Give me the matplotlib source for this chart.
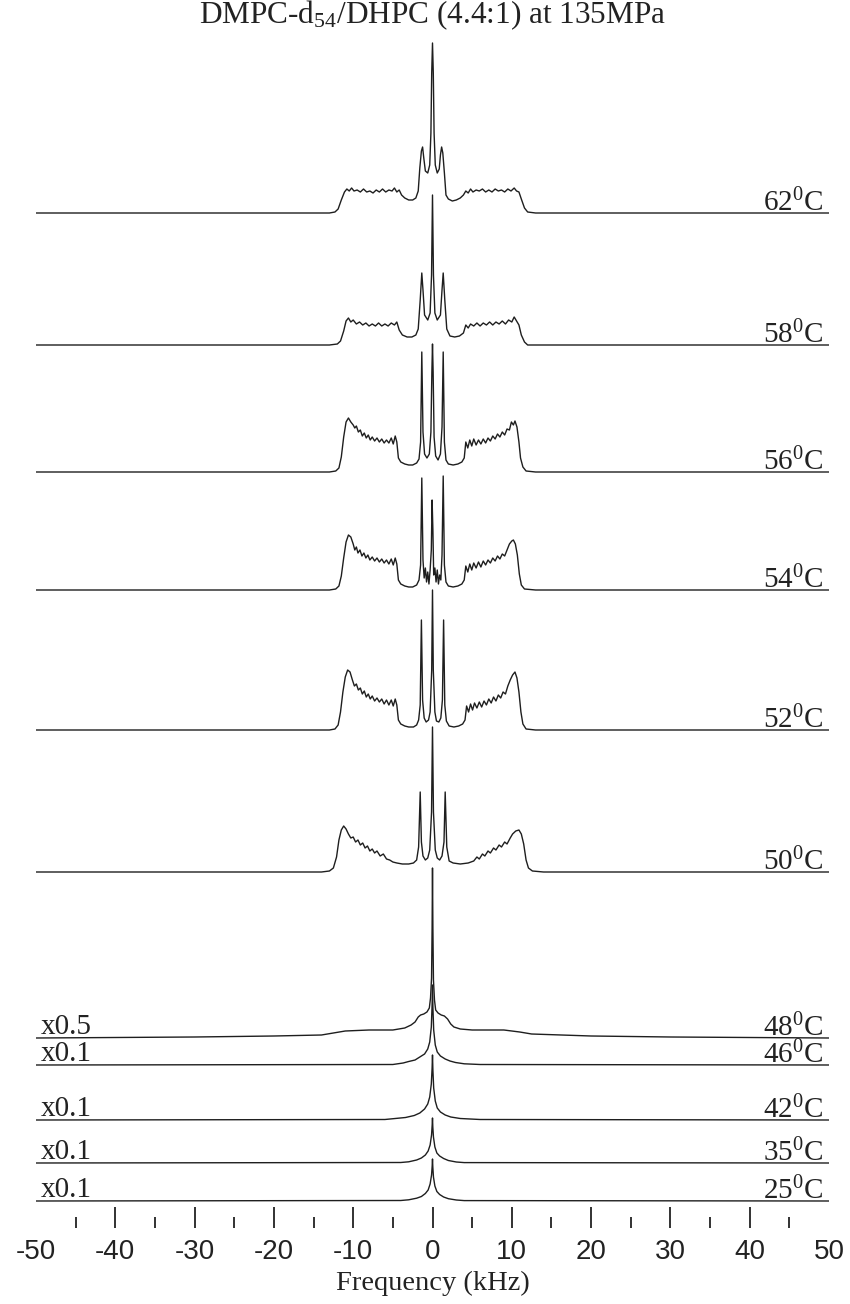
import matplotlib
matplotlib.use("Agg")
import matplotlib.pyplot as plt
import numpy as np

plt.rcParams["font.family"] = ["Liberation Sans", "DejaVu Sans"]
plt.rcParams["axes.unicode_minus"] = False
plt.rcParams["mathtext.fontset"] = "custom"
plt.rcParams["mathtext.rm"] = "Liberation Serif"
plt.rcParams["mathtext.it"] = "Liberation Serif:italic"

SERIF = ["Liberation Serif", "DejaVu Serif"]

# 2H NMR spectra of DMPC-d54/DHPC, (frequency kHz, intensity) vertices
spec_62 = [(-50, 0), (-30, 0), (-13, 0), (-12.3, 1), (-11.9, 4), (-11.5, 13), (-11.1, 21), (-10.8, 24),
           (-10.5, 22), (-10.2, 25), (-9.9, 22), (-9.5, 23), (-9.1, 21), (-8.7, 24), (-8.3, 21), (-7.9, 22),
           (-7.5, 20), (-7.1, 23), (-6.7, 21), (-6.3, 24), (-5.9, 21), (-5.5, 23), (-5.1, 22), (-4.8, 25),
           (-4.5, 21), (-4.2, 23), (-3.9, 18), (-3.5, 15), (-3.0, 13), (-2.5, 13), (-2.1, 15), (-1.8, 22),
           (-1.6, 45), (-1.4, 62), (-1.25, 66), (-1.1, 55), (-0.9, 42), (-0.6, 40), (-0.35, 48), (-0.2, 80),
           (-0.1, 140), (0, 170), (0.1, 140), (0.2, 80), (0.35, 48), (0.6, 40), (0.85, 44), (1.0, 58),
           (1.15, 66), (1.3, 60), (1.5, 40), (1.7, 18), (2.0, 14), (2.5, 12), (3.0, 13), (3.5, 15),
           (3.9, 18), (4.2, 22), (4.5, 20), (4.8, 24), (5.1, 21), (5.5, 23), (5.9, 22), (6.3, 24),
           (6.7, 21), (7.1, 23), (7.5, 21), (7.9, 24), (8.3, 22), (8.7, 23), (9.1, 21), (9.5, 24),
           (9.9, 22), (10.3, 25), (10.6, 22), (10.9, 21), (11.2, 14), (11.6, 5), (12.0, 1), (13, 0),
           (30, 0), (50, 0)]

spec_58 = [(-50, 0), (-13, 0), (-12.0, 1), (-11.6, 4), (-11.2, 14), (-10.9, 24), (-10.6, 27), (-10.3, 23),
           (-10.0, 25), (-9.6, 21), (-9.2, 23), (-8.8, 20), (-8.4, 22), (-8.0, 19), (-7.6, 21), (-7.2, 19),
           (-6.8, 22), (-6.4, 19), (-6.0, 21), (-5.6, 19), (-5.2, 22), (-4.8, 20), (-4.5, 23), (-4.2, 15),
           (-3.8, 10), (-3.2, 8), (-2.6, 8), (-2.1, 10), (-1.8, 16), (-1.55, 45), (-1.35, 72), (-1.2, 55),
           (-1.0, 30), (-0.6, 25), (-0.3, 32), (-0.12, 70), (0, 150), (0.12, 70), (0.3, 32), (0.6, 25),
           (1.0, 30), (1.2, 55), (1.35, 72), (1.55, 45), (1.8, 16), (2.2, 9), (2.8, 8), (3.4, 9),
           (3.9, 12), (4.2, 20), (4.5, 17), (4.8, 21), (5.2, 19), (5.6, 22), (6.0, 19), (6.4, 22),
           (6.8, 20), (7.2, 23), (7.6, 20), (8.0, 23), (8.4, 21), (8.8, 24), (9.2, 21), (9.6, 25),
           (10.0, 23), (10.3, 28), (10.6, 24), (10.9, 20), (11.2, 10), (11.6, 3), (12.0, 0), (50, 0)]

spec_56 = [(-50, 0), (-13, 0), (-12.2, 1), (-11.8, 4), (-11.5, 15), (-11.2, 35), (-10.9, 50), (-10.6, 54),
           (-10.3, 50), (-10.0, 47), (-9.8, 44), (-9.6, 46), (-9.35, 40), (-9.1, 42), (-8.85, 36), (-8.6, 39),
           (-8.35, 34), (-8.1, 37), (-7.85, 32), (-7.6, 35), (-7.3, 31), (-7.0, 34), (-6.7, 30), (-6.4, 33),
           (-6.1, 29), (-5.8, 32), (-5.5, 29), (-5.2, 34), (-4.95, 28), (-4.7, 36), (-4.5, 30), (-4.3, 14),
           (-4.0, 10), (-3.5, 8), (-3.0, 7), (-2.5, 7), (-2.0, 9), (-1.7, 13), (-1.5, 30), (-1.35, 120),
           (-1.2, 40), (-1.0, 18), (-0.7, 14), (-0.4, 18), (-0.2, 40), (-0.08, 100), (0, 128), (0.08, 100),
           (0.2, 35), (0.4, 16), (0.7, 12), (1.0, 18), (1.2, 45), (1.35, 120), (1.5, 30), (1.7, 12),
           (2.0, 8), (2.6, 7), (3.2, 8), (3.7, 10), (4.0, 14), (4.2, 30), (4.45, 24), (4.7, 32),
           (4.95, 26), (5.2, 33), (5.5, 27), (5.8, 32), (6.1, 28), (6.4, 33), (6.7, 29), (7.0, 34),
           (7.3, 31), (7.6, 36), (7.9, 33), (8.2, 38), (8.5, 35), (8.8, 40), (9.1, 37), (9.4, 43),
           (9.7, 42), (9.95, 50), (10.2, 47), (10.4, 51), (10.65, 45), (10.9, 30), (11.1, 14), (11.4, 5),
           (11.8, 1), (13, 0), (50, 0)]

spec_54 = [(-50, 0), (-13, 0), (-12.2, 1), (-11.8, 4), (-11.5, 14), (-11.2, 32), (-10.9, 48), (-10.6, 55),
           (-10.3, 53), (-10.0, 46), (-9.8, 40), (-9.6, 43), (-9.4, 37), (-9.15, 40), (-8.9, 34), (-8.65, 37),
           (-8.4, 32), (-8.15, 35), (-7.9, 30), (-7.6, 33), (-7.3, 29), (-7.0, 32), (-6.7, 28), (-6.4, 31),
           (-6.1, 27), (-5.8, 30), (-5.5, 26), (-5.2, 31), (-4.95, 25), (-4.7, 32), (-4.5, 26), (-4.3, 10),
           (-4.0, 6), (-3.5, 4), (-3.0, 3), (-2.5, 3), (-2.0, 5), (-1.7, 10), (-1.5, 25), (-1.35, 112),
           (-1.2, 30), (-1.05, 12), (-0.9, 22), (-0.75, 8), (-0.6, 18), (-0.45, 6), (-0.3, 20), (-0.15, 40),
           (-0.05, 90), (0.05, 60), (0.15, 15), (0.3, 22), (0.45, 8), (0.6, 20), (0.75, 6), (0.9, 15),
           (1.05, 10), (1.2, 35), (1.35, 114), (1.5, 25), (1.7, 8), (2.0, 4), (2.6, 3), (3.2, 4),
           (3.7, 6), (4.0, 10), (4.2, 24), (4.45, 18), (4.7, 26), (4.95, 20), (5.2, 27), (5.5, 22),
           (5.8, 28), (6.1, 23), (6.4, 29), (6.7, 25), (7.0, 30), (7.3, 27), (7.6, 32), (7.9, 29),
           (8.2, 34), (8.5, 31), (8.8, 36), (9.1, 34), (9.4, 40), (9.7, 46), (10.0, 49), (10.2, 50),
           (10.45, 46), (10.7, 35), (10.95, 16), (11.2, 5), (11.6, 1), (13, 0), (50, 0)]

spec_52 = [(-50, 0), (-13, 0), (-12.3, 1), (-11.9, 5), (-11.6, 18), (-11.3, 38), (-11.0, 53), (-10.7, 60),
           (-10.4, 58), (-10.1, 50), (-9.85, 44), (-9.6, 46), (-9.35, 40), (-9.1, 42), (-8.85, 36), (-8.6, 39),
           (-8.35, 33), (-8.1, 36), (-7.85, 31), (-7.6, 34), (-7.3, 29), (-7.0, 32), (-6.7, 28), (-6.4, 31),
           (-6.1, 26), (-5.8, 30), (-5.5, 25), (-5.2, 30), (-4.95, 24), (-4.7, 31), (-4.5, 25), (-4.3, 10),
           (-4.0, 6), (-3.5, 4), (-3.0, 3), (-2.4, 3), (-2.0, 5), (-1.75, 10), (-1.55, 25), (-1.4, 110),
           (-1.25, 30), (-1.05, 12), (-0.8, 8), (-0.5, 10), (-0.3, 18), (-0.1, 60), (0, 140), (0.1, 60),
           (0.3, 18), (0.5, 9), (0.8, 8), (1.05, 12), (1.25, 30), (1.4, 110), (1.55, 25), (1.75, 9),
           (2.1, 4), (2.7, 3), (3.3, 4), (3.8, 6), (4.1, 10), (4.3, 24), (4.55, 18), (4.8, 26),
           (5.05, 20), (5.3, 27), (5.6, 22), (5.9, 28), (6.2, 23), (6.5, 29), (6.8, 25), (7.1, 31),
           (7.4, 27), (7.7, 33), (8.0, 29), (8.3, 35), (8.6, 32), (8.9, 38), (9.2, 36), (9.5, 44),
           (9.8, 50), (10.1, 55), (10.4, 58), (10.65, 52), (10.9, 38), (11.15, 18), (11.4, 6), (11.8, 1),
           (13, 0), (50, 0)]

spec_50 = [(-50, 0), (-14, 0), (-13.0, 1), (-12.5, 4), (-12.1, 15), (-11.8, 32), (-11.5, 42), (-11.2, 46),
           (-10.9, 43), (-10.6, 38), (-10.3, 34), (-10.0, 35), (-9.7, 30), (-9.4, 32), (-9.1, 27), (-8.8, 29),
           (-8.5, 24), (-8.2, 26), (-7.9, 21), (-7.6, 23), (-7.3, 19), (-7.0, 21), (-6.6, 16), (-6.2, 18),
           (-5.8, 13), (-5.4, 12), (-5.0, 10), (-4.5, 9), (-3.8, 8), (-3.0, 8), (-2.4, 9), (-2.0, 12),
           (-1.75, 25), (-1.55, 80), (-1.4, 30), (-1.2, 16), (-0.9, 12), (-0.6, 14), (-0.35, 22), (-0.12, 60),
           (0, 145), (0.12, 60), (0.35, 22), (0.6, 14), (0.9, 12), (1.2, 16), (1.45, 30), (1.6, 80),
           (1.8, 25), (2.1, 11), (2.6, 9), (3.5, 8), (4.5, 9), (5.2, 11), (5.6, 15), (5.9, 13),
           (6.3, 18), (6.6, 16), (7.0, 21), (7.3, 19), (7.7, 24), (8.0, 22), (8.4, 27), (8.7, 25),
           (9.1, 30), (9.4, 28), (9.8, 34), (10.1, 38), (10.5, 41), (10.9, 42), (11.2, 38), (11.5, 28),
           (11.8, 12), (12.1, 4), (12.6, 1), (14, 0), (50, 0)]

spec_48 = [(-50, 0), (-40, 0.5), (-30, 1), (-20, 2), (-14, 3), (-12.5, 5), (-11, 7), (-8, 8), (-5, 8),
           (-3.5, 10), (-2.7, 13), (-2.2, 16), (-1.8, 21), (-1.5, 23), (-1.1, 24), (-0.7, 26), (-0.4, 30),
           (-0.25, 40), (-0.12, 60), (-0.05, 110), (0, 170), (0.05, 110), (0.12, 58), (0.25, 38), (0.4, 28),
           (0.7, 25), (1.1, 23), (1.5, 22), (1.9, 19), (2.3, 14), (2.7, 11), (3.5, 9), (5, 8), (9, 8),
           (11, 6), (12.5, 4), (20, 2), (30, 1), (50, 0)]

spec_46 = [(-50, 0), (-5, 0.5), (-3.7, 2), (-3.0, 3.5), (-2.2, 5), (-1.6, 8), (-1.0, 11), (-0.6, 16),
           (-0.35, 23), (-0.15, 38), (-0.05, 60), (0, 80), (0.05, 58), (0.15, 35), (0.35, 20), (0.6, 13),
           (1.0, 9), (1.6, 6), (2.2, 4), (2.9, 2.5), (4, 1.2), (6, 0.5), (50, 0)]

spec_42 = [(-50, 0), (-6, 0.5), (-3.4, 2.5), (-2.3, 4.5), (-1.6, 7), (-1.0, 11), (-0.6, 16), (-0.35, 23),
           (-0.15, 36), (-0.05, 52), (0, 65), (0.05, 50), (0.15, 32), (0.35, 19), (0.6, 12), (1.0, 8),
           (1.6, 5), (2.3, 3), (3.5, 1.5), (6, 0.5), (50, 0)]

spec_35 = [(-50, 0), (-4, 0.5), (-3, 1.2), (-2, 3), (-1.4, 5), (-0.9, 8), (-0.55, 12), (-0.3, 18),
           (-0.12, 28), (-0.04, 38), (0, 45), (0.04, 36), (0.12, 26), (0.3, 16), (0.55, 10), (0.9, 7),
           (1.4, 4.5), (2, 2.5), (3, 1), (4, 0.4), (50, 0)]

spec_25 = [(-50, 0), (-4, 0.5), (-3, 1.2), (-2, 2.8), (-1.4, 4.5), (-0.9, 7.5), (-0.55, 11), (-0.3, 17),
           (-0.12, 26), (-0.04, 35), (0, 42), (0.04, 34), (0.12, 24), (0.3, 15), (0.55, 9.5), (0.9, 6.5),
           (1.4, 4), (2, 2.3), (3, 1), (4, 0.4), (50, 0)]

temperatures = [62, 58, 56, 54, 52, 50, 48, 46, 42, 35, 25]
spectra = [spec_62, spec_58, spec_56, spec_54, spec_52, spec_50,
           spec_48, spec_46, spec_42, spec_35, spec_25]
scale_factors = ["", "", "", "", "", "", "x0.5", "x0.1", "x0.1", "x0.1", "x0.1"]

# vertical stacking of the traces
stack_offsets = [988, 856, 729, 611, 471, 329, 163, 136, 81, 38, 0]

W, H = 850, 1304
fig = plt.figure(figsize=(W / 100, H / 100), dpi=100)
ax = fig.add_axes([36 / W, 76 / H, 793 / W, 1228 / H])
ax.set_xlim(-50, 50)
ax.set_ylim(-27, 1201)

line_color = "#1e1e1e"
for spec, off, temp, fac in zip(spectra, stack_offsets, temperatures, scale_factors):
    x = np.array([p[0] for p in spec], dtype=float)
    y = np.array([p[1] for p in spec], dtype=float)
    ax.plot(x, y + off, color=line_color, lw=1.0, solid_joinstyle="round")
    ax.text(49.3, off + 2, r"%d$^{\mathrm{0}}$C" % temp, ha="right", va="baseline",
            fontsize=21, family=SERIF, color="#222222")
    if fac:
        ax.text(-49.4, off + 4, fac, ha="left", va="baseline",
                fontsize=21, family=SERIF, color="#222222")

for s in ax.spines.values():
    s.set_visible(False)
ax.set_yticks([])
ax.set_xticks(np.arange(-50, 51, 10))
ax.set_xticks(np.arange(-45, 50, 10), minor=True)
ax.tick_params(axis="x", which="major", direction="in", length=15, width=1.3,
               pad=8, labelsize=20, colors="#222222")
ax.tick_params(axis="x", which="minor", direction="in", length=8, width=1.3, colors="#222222")
for tick, loc in zip(ax.xaxis.get_major_ticks(), ax.get_xticks()):
    if abs(loc) == 50:
        tick.tick1line.set_visible(False)

ax.set_xlabel("Frequency (kHz)", family=SERIF, fontsize=20.5, labelpad=4, color="#222222")

fig.text(0.509, 1 - 15 / H, r"DMPC-d$_{\mathrm{54}}$/DHPC (4.4:1) at 135MPa",
         ha="center", va="center", fontsize=22.5, family=SERIF, color="#222222")

fig.savefig("out.png", dpi=100, facecolor="white")
